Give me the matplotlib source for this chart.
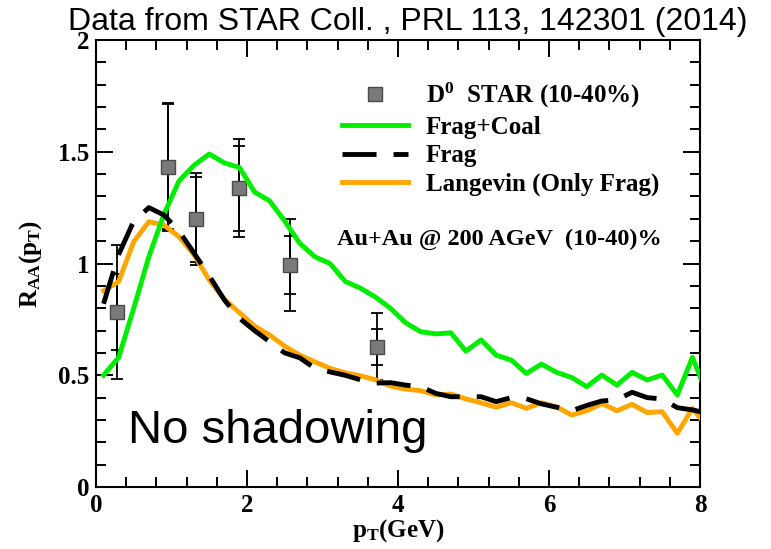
import matplotlib
matplotlib.use("Agg")
import matplotlib.pyplot as plt
from matplotlib import ticker
from matplotlib.lines import Line2D

plt.rcParams['font.family'] = ['Liberation Serif', 'DejaVu Serif']
plt.rcParams['font.weight'] = 'bold'
plt.rcParams['axes.labelweight'] = 'bold'
plt.rcParams['mathtext.fontset'] = 'custom'
plt.rcParams['mathtext.rm'] = 'Liberation Serif:bold'
plt.rcParams['mathtext.it'] = 'Liberation Serif:bold'
plt.rcParams['mathtext.bf'] = 'Liberation Serif:bold'
plt.rcParams['mathtext.default'] = 'rm'

# STAR D0 R_AA, Au+Au 200 GeV, 10-40%
star_pt = [0.28, 0.95, 1.32, 1.90, 2.57, 3.72]
star_raa = [0.784, 1.433, 1.198, 1.337, 0.993, 0.628]
star_sys = [0.30, 0.287, 0.205, 0.22, 0.205, 0.15]
star_stat = [0.17, 0.28, 0.19, 0.19, 0.13, 0.08]

# model curves
pt_grid = [0.1, 0.3, 0.5, 0.7, 0.9, 1.1, 1.3, 1.5, 1.7, 1.9,
           2.1, 2.3, 2.5, 2.7, 2.9, 3.1, 3.3, 3.5, 3.7, 3.9,
           4.1, 4.3, 4.5, 4.7, 4.9, 5.1, 5.3, 5.5, 5.7, 5.9,
           6.1, 6.3, 6.5, 6.7, 6.9, 7.1, 7.3, 7.5, 7.7, 7.9, 8.1]
frag_coal = [0.50, 0.58, 0.80, 1.03, 1.22, 1.37, 1.44, 1.49, 1.45, 1.43,
             1.32, 1.28, 1.19, 1.09, 1.03, 1.00, 0.92, 0.89, 0.85, 0.80,
             0.735, 0.695, 0.685, 0.69, 0.608, 0.658, 0.59, 0.568, 0.508, 0.55,
             0.513, 0.49, 0.449, 0.501, 0.456, 0.513, 0.479, 0.501, 0.412, 0.58, 0.41]
frag = [0.82, 1.04, 1.19, 1.25, 1.217, 1.145, 1.046, 0.945, 0.837, 0.755,
        0.70, 0.65, 0.60, 0.578, 0.531, 0.515, 0.50, 0.48, 0.465, 0.467,
        0.456, 0.449, 0.419, 0.404, 0.404, 0.404, 0.382, 0.40, 0.395, 0.372,
        0.357, 0.341, 0.365, 0.385, 0.39, 0.424, 0.40, 0.394, 0.355, 0.345, 0.33]
langevin = [0.878, 0.919, 1.098, 1.187, 1.172, 1.12, 1.038, 0.926, 0.84, 0.78,
            0.72, 0.68, 0.63, 0.59, 0.56, 0.531, 0.511, 0.498, 0.48, 0.452,
            0.438, 0.431, 0.412, 0.416, 0.394, 0.377, 0.357, 0.377, 0.352, 0.377,
            0.359, 0.322, 0.341, 0.374, 0.341, 0.37, 0.333, 0.337, 0.24, 0.352, 0.27]

x_ticks = [0, 2, 4, 6, 8]
x_ticklabels = ["0", "2", "4", "6", "8"]
y_ticks = [0, 0.5, 1, 1.5, 2]
y_ticklabels = ["0", "0.5", "1", "1.5", "2"]

labels = ["D$^{0}$  STAR (10-40%)", "Frag+Coal", "Frag", "Langevin (Only Frag)"]

fig = plt.figure(figsize=(7.71, 5.49), dpi=100)
ax = fig.add_axes([0.1245, 0.1129, 0.7834, 0.8142])

# data: systematic + statistical bars, then the squares
ax.errorbar(star_pt, star_raa, yerr=star_sys, fmt='none', ecolor='black',
            elinewidth=1.3, capsize=4.5, capthick=1.3, zorder=2)
ax.errorbar(star_pt, star_raa, yerr=star_stat, fmt='none', ecolor='black',
            elinewidth=1.3, capsize=4.5, capthick=1.3, zorder=2)
ax.plot(star_pt, star_raa, ls='none', marker='s', ms=10.5,
        mfc='#7a7a7a', mec='#4a4a4a', mew=1.0, zorder=2.5)

lw = 3.5
ax.plot(pt_grid, langevin, color='#ffa500', lw=lw, zorder=3)
ax.plot(pt_grid, frag_coal, color='#00ee00', lw=lw, zorder=4)
ax.plot(pt_grid, frag, color='black', lw=lw, ls=(0, (7, 3.5)), zorder=5)

ax.set_xlim(0, 8)
ax.set_ylim(0, 2)
ax.set_xticks(x_ticks, x_ticklabels, fontsize=18, fontweight='bold')
ax.set_yticks(y_ticks, y_ticklabels, fontsize=18, fontweight='bold')
ax.xaxis.set_minor_locator(ticker.MultipleLocator(0.4))
ax.yaxis.set_minor_locator(ticker.MultipleLocator(0.1))
ax.tick_params(which='both', direction='in', top=True, right=True,
               width=1.4, pad=5)
ax.tick_params(which='major', length=12.5)
ax.tick_params(which='minor', length=7.5)
for sp in ax.spines.values():
    sp.set_linewidth(1.5)

ax.set_xlabel("p$_{T}$(GeV)", fontsize=18, fontweight='bold', labelpad=0)
ax.set_ylabel("R$_{AA}$(p$_{T}$)", fontsize=18, fontweight='bold', labelpad=10)

handles = [
    Line2D([], [], ls='none', marker='s', ms=10.5, mfc='#7a7a7a', mec='#4a4a4a'),
    Line2D([], [], color='#00ee00', lw=lw),
    Line2D([], [], color='black', lw=lw, ls=(0, (7, 3.5))),
    Line2D([], [], color='#ffa500', lw=lw),
]
ax.legend(handles, labels, loc='upper left', bbox_to_anchor=(0.407, 0.908),
          frameon=False, fontsize=18, borderpad=0, borderaxespad=0,
          handlelength=2.65, handletextpad=0.7, labelspacing=0.22)

ax.text(0.399, 0.555, "Au+Au @ 200 AGeV  (10-40)%", transform=ax.transAxes,
        fontsize=17.5, fontweight='bold', va='center', ha='left')
ax.text(0.053, 0.098, "No shadowing", transform=ax.transAxes,
        fontsize=34, family='Liberation Sans', fontweight='normal',
        va='baseline', ha='left')

fig.text(68 / 771, 1 - 30 / 549, "Data from STAR Coll. , PRL 113, 142301 (2014)",
         fontsize=23, family='Liberation Sans', fontweight='normal',
         va='baseline', ha='left')

fig.savefig("out.png", dpi=100)
